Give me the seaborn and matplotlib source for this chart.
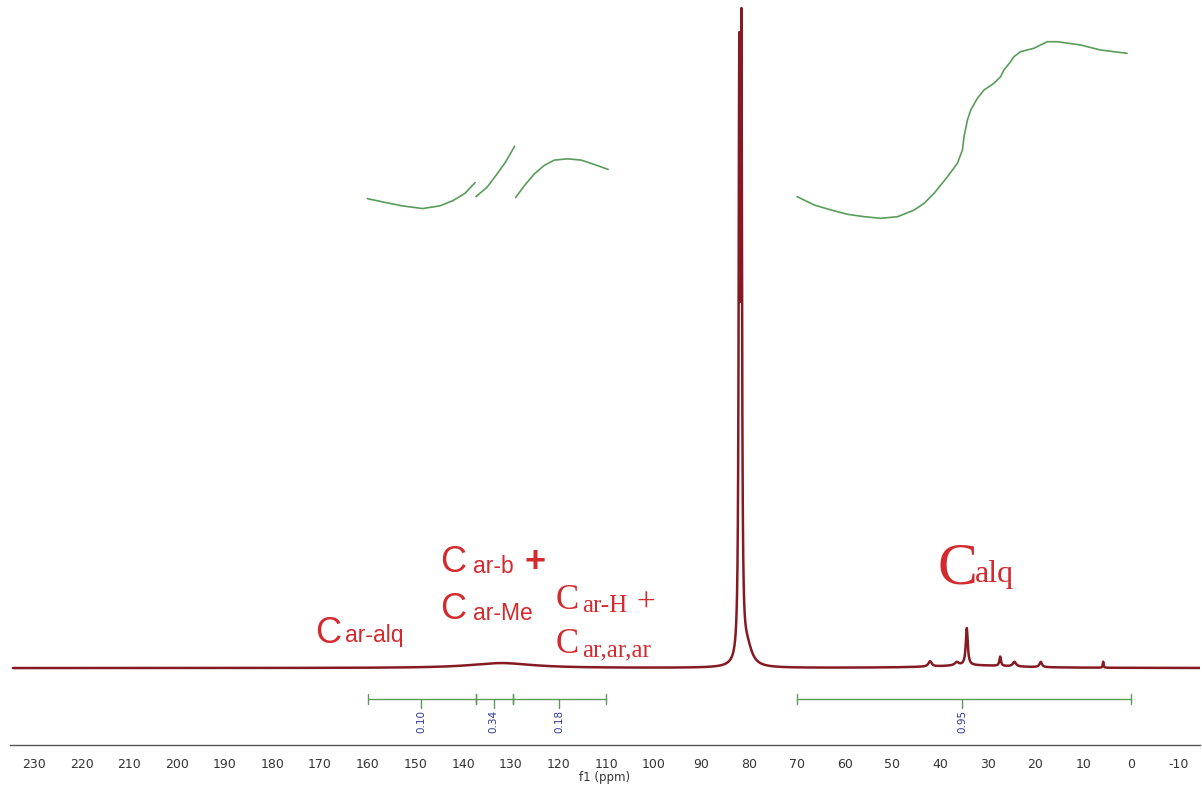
import numpy as np
import pandas as pd
import matplotlib
matplotlib.use("Agg")
import matplotlib.pyplot as plt
import seaborn as sns

# ---------------- data ----------------
# peak table: position (ppm), height (% of tallest), width (FWHM, ppm)
peak_ppm    = [82.1, 81.65, 80.5, 132.0, 33.0, 42.1, 36.5, 34.4, 27.4, 24.4, 18.9, 5.8]
peak_height = [85.8, 89.3,  3.0,  0.75,  0.4,  0.8,  0.5,  5.6,  1.4,  0.7,  0.8,  0.9]
peak_width  = [0.30, 0.30,  2.5,  16.0,  20.0, 0.8,  1.0,  0.5,  0.4,  0.8,  0.6,  0.2]

# integral curves (ppm, relative height)
int1_ppm = [160.1, 156.2, 152.7, 148.5, 144.9, 142.1, 139.6, 137.5]
int1_val = [70.8, 70.2, 69.7, 69.3, 69.7, 70.5, 71.6, 73.2]
int2_ppm = [137.3, 135.0, 132.9, 131.1, 129.2]
int2_val = [71.1, 72.5, 74.5, 76.3, 78.7]
int3_ppm = [129.0, 127.2, 125.1, 123.0, 120.9, 118.1, 115.2, 112.3, 109.6]
int3_val = [70.95, 72.7, 74.5, 75.8, 76.6, 76.8, 76.6, 75.9, 75.2]
int4_ppm = [69.98, 66.36, 62.86, 59.37, 55.90, 52.40, 48.91, 45.43, 43.34, 41.25, 39.85,
            38.45, 36.36, 35.31, 34.98, 34.26, 33.57, 32.17, 30.79, 28.70, 27.30, 26.61,
            25.21, 24.52, 23.11, 20.33, 18.93, 17.53, 15.44, 10.56, 6.38, 0.79]
int4_val = [71.09, 69.83, 69.08, 68.43, 68.07, 67.83, 68.07, 69.08, 70.09, 71.60, 72.85,
            74.10, 76.12, 78.13, 80.14, 82.65, 84.16, 85.93, 87.18, 88.19, 89.19, 90.20,
            91.45, 92.20, 92.96, 93.47, 93.97, 94.46, 94.46, 93.97, 93.21, 92.71]

# integration regions
region_start = [160.0, 137.4, 129.5, 70.0]
region_end   = [137.4, 129.5, 110.0, 0.0]
region_label_ppm = [148.8, 133.6, 119.8, 35.3]
region_values = ["0.10", "0.34", "0.18", "0.95"]

tick_values = list(range(230, -11, -10))

# ---------------- spectrum ----------------
ppm = np.arange(234.4, -14.5, -0.01)
intensity = np.zeros_like(ppm)
for p, h, w in zip(peak_ppm, peak_height, peak_width):
    intensity += h / (1.0 + ((ppm - p) / (w / 2.0)) ** 2)
spec = pd.DataFrame({"ppm": ppm, "intensity": intensity})

# ---------------- figure ----------------
sns.set_style("white")
W, H = 1202, 791
fig = plt.figure(figsize=(W / 100, H / 100), dpi=100)
ax = fig.add_axes([10 / W, 46 / H, 1190 / W, 745 / H])

red_line = "#861a22"
green = "#5a9c5a"
blue = "#2a3a8f"
label_red = "#d42a2e"

sns.lineplot(data=spec, x="ppm", y="intensity", ax=ax, color=red_line,
             linewidth=1.8, sort=False, estimator=None)

for xs, ys in [(int1_ppm, int1_val), (int2_ppm, int2_val), (int3_ppm, int3_val), (int4_ppm, int4_val)]:
    sns.lineplot(x=xs, y=ys, ax=ax, color=green, linewidth=1.2, sort=False, estimator=None)

# integration brackets
bracket_y = -4.68
for s, e in zip(region_start, region_end):
    ax.plot([s, e], [bracket_y, bracket_y], color=green, linewidth=1.0)
    ax.plot([s, s], [bracket_y - 0.7, bracket_y + 0.7], color=green, linewidth=1.0)
    ax.plot([e, e], [bracket_y - 0.7, bracket_y + 0.7], color=green, linewidth=1.0)
for c, v in zip(region_label_ppm, region_values):
    ax.plot([c, c], [bracket_y, bracket_y - 1.3], color=green, linewidth=1.0)
    ax.text(c, -8.1, v, rotation=90, ha="center", va="center", fontsize=7.5,
            color=blue, family="DejaVu Sans")

ax.set_xlim(234.4, -14.5)
ax.set_ylim(-11.6, 100.75)
ax.set_xticks(tick_values)
ax.set_xticklabels([str(t) for t in tick_values])
ax.set_xticks(np.arange(235, -15, -5), minor=True)
ax.set_yticks([])
for s in ["top", "left", "right"]:
    ax.spines[s].set_visible(False)
ax.spines["bottom"].set_color("#555555")
ax.spines["bottom"].set_linewidth(1.0)
ax.tick_params(axis="x", which="major", direction="out", length=6, width=1.0,
               color="#555555", labelsize=9, pad=3, labelcolor="#333333")
ax.tick_params(axis="x", which="minor", direction="out", length=3, width=0.8, color="#555555")
ax.set_xlabel("f1 (ppm)", fontsize=8.5, color="#333333", labelpad=0)
ax.set_ylabel("")
ax.patch.set_alpha(0)


def px(x, y):
    return x / W, 1 - y / H


sans = "Liberation Sans"
serif = "Liberation Serif"

# sans labels
fig.text(*px(315, 643), "C", fontsize=26, color=label_red, family=sans, va="baseline")
fig.text(*px(345, 642), "ar-alq", fontsize=16.5, color=label_red, family=sans, va="baseline")
fig.text(*px(440, 572), "C", fontsize=26, color=label_red, family=sans, va="baseline")
fig.text(*px(473, 573), "ar-b", fontsize=16.5, color=label_red, family=sans, va="baseline")
fig.text(*px(525, 572), "+", fontsize=26, color=label_red, family=sans, va="baseline",
         fontweight="bold")
fig.text(*px(440, 619), "C", fontsize=26, color=label_red, family=sans, va="baseline")
fig.text(*px(473, 620), "ar-Me", fontsize=16.5, color=label_red, family=sans, va="baseline")

# serif labels
fig.text(*px(556, 609), "C", fontsize=25, color=label_red, family=serif, va="baseline")
fig.text(*px(582, 612), "ar-H", fontsize=18, color=label_red, family=serif, va="baseline")
fig.text(*px(636, 612), "+", fontsize=24, color=label_red, family=serif, va="baseline")
fig.text(*px(556, 653), "C", fontsize=25, color=label_red, family=serif, va="baseline")
fig.text(*px(582, 656), "ar,ar,ar", fontsize=18, color=label_red, family=serif, va="baseline")
fig.text(*px(938, 583), "C", fontsize=43, color=label_red, family=serif, va="baseline")
fig.text(*px(975, 582), "alq", fontsize=23, color=label_red, family=serif, va="baseline")

fig.savefig("out.png", dpi=100, facecolor="white")
